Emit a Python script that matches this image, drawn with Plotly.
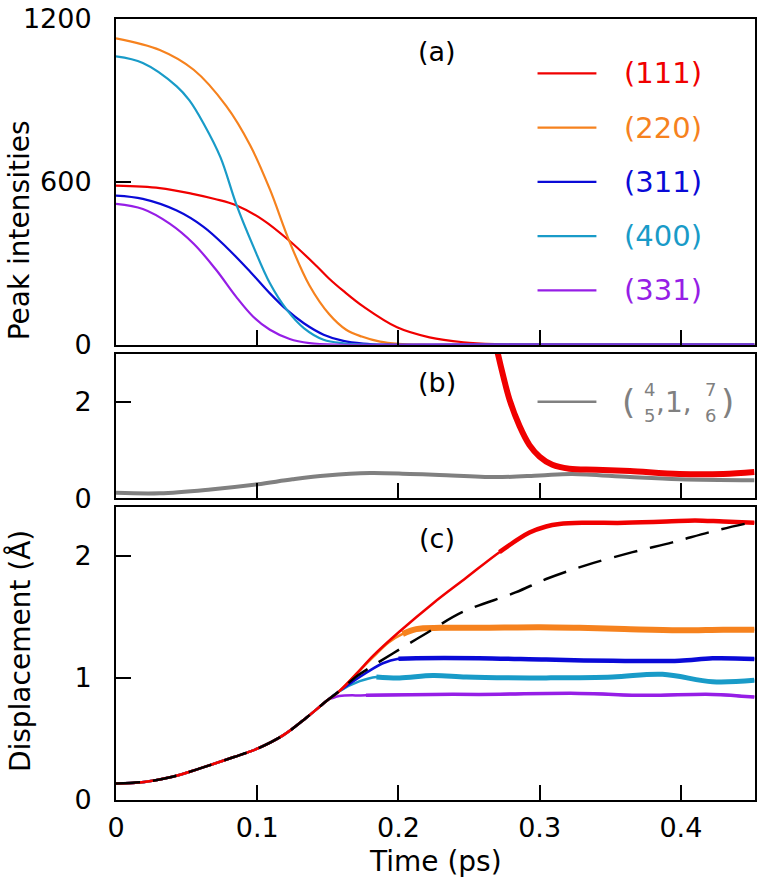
import plotly.graph_objects as go

# ---- panel (a): peak intensities vs time ----
a_111_t = [0, 0.031, 0.055, 0.07, 0.085, 0.104, 0.123, 0.142, 0.151, 0.161, 0.175, 0.199, 0.222, 0.246, 0.269, 0.292, 0.35, 0.452]
a_111_v = [586, 577, 555, 537, 514, 460, 382, 290, 243, 198, 141, 64, 27, 9, 2, 0, 0, 0]

a_220_t = [0, 0.031, 0.055, 0.078, 0.095, 0.109, 0.123, 0.137, 0.151, 0.163, 0.174, 0.187, 0.2, 0.215, 0.3, 0.452]
a_220_v = [1129, 1086, 1013, 880, 735, 572, 378, 218, 112, 55, 30, 11, 3, 0, 0, 0]

a_311_t = [0, 0.019, 0.043, 0.062, 0.078, 0.095, 0.109, 0.121, 0.133, 0.147, 0.161, 0.175, 0.19, 0.25, 0.452]
a_311_v = [549, 537, 494, 434, 360, 269, 189, 128, 79, 37, 14, 4, 0, 0, 0]

a_400_t = [0, 0.019, 0.043, 0.052, 0.062, 0.074, 0.085, 0.097, 0.109, 0.121, 0.133, 0.147, 0.161, 0.18, 0.25, 0.452]
a_400_v = [1062, 1038, 952, 900, 815, 690, 520, 365, 226, 128, 61, 18, 5, 0, 0, 0]

a_331_t = [0, 0.019, 0.038, 0.055, 0.071, 0.085, 0.097, 0.109, 0.123, 0.137, 0.155, 0.22, 0.452]
a_331_v = [519, 500, 446, 372, 275, 177, 104, 55, 21, 6, 0, 0, 0]

# ---- panel (b) ----
b_gray_t = [0, 0.031, 0.067, 0.1, 0.125, 0.149, 0.18, 0.208, 0.229, 0.269, 0.30, 0.323, 0.364, 0.399, 0.452]
b_gray_v = [0.11, 0.10, 0.18, 0.285, 0.39, 0.47, 0.52, 0.50, 0.48, 0.435, 0.47, 0.50, 0.435, 0.39, 0.37]

b_red_t = [0.2675, 0.2704, 0.2745, 0.2786, 0.2857, 0.2928, 0.30, 0.309, 0.321, 0.34, 0.364, 0.399, 0.43, 0.452]
b_red_v = [3.4, 3.0, 2.5, 2.05, 1.50, 1.10, 0.86, 0.69, 0.61, 0.59, 0.56, 0.50, 0.50, 0.54]

# ---- panel (c): displacement ----
c_common_t = [0, 0.02, 0.04, 0.059, 0.083, 0.1, 0.118, 0.135, 0.149, 0.158]
c_common_v = [0.135, 0.148, 0.19, 0.257, 0.35, 0.42, 0.527, 0.676, 0.81, 0.89]

c_111_t = [0.17, 0.182, 0.2008, 0.2244, 0.248, 0.2715, 0.2928, 0.3046, 0.314, 0.33, 0.36, 0.39, 0.41, 0.43, 0.452]
c_111_v = [1.03, 1.18, 1.38, 1.61, 1.82, 2.03, 2.19, 2.24, 2.26, 2.27, 2.27, 2.28, 2.29, 2.28, 2.27]

c_220_t = [0.17, 0.182, 0.193, 0.203, 0.2126, 0.23, 0.257, 0.3, 0.328, 0.36, 0.399, 0.43, 0.452]
c_220_v = [1.03, 1.17, 1.29, 1.36, 1.40, 1.41, 1.41, 1.415, 1.41, 1.40, 1.39, 1.395, 1.395]

c_311_t = [0.177, 0.189, 0.2, 0.2126, 0.257, 0.3046, 0.3517, 0.399, 0.4224, 0.452]
c_311_v = [1.04, 1.12, 1.157, 1.162, 1.162, 1.15, 1.14, 1.14, 1.16, 1.155]

c_400_t = [0.1726, 0.1844, 0.2008, 0.2244, 0.248, 0.2928, 0.3046, 0.3517, 0.387, 0.4224, 0.452]
c_400_v = [0.973, 1.008, 1.0, 1.02, 1.008, 1.0, 1.0, 1.008, 1.03, 0.968, 0.98]

c_331_t = [0.152, 0.158, 0.177, 0.2244, 0.257, 0.328, 0.375, 0.4224, 0.452]
c_331_v = [0.83, 0.852, 0.857, 0.865, 0.865, 0.873, 0.857, 0.865, 0.843]

c_dash_t = [0.17, 0.182, 0.196, 0.2204, 0.2455, 0.2829, 0.3046, 0.332, 0.3658, 0.394, 0.4224, 0.4525]
c_dash_v = [1.01, 1.10, 1.20, 1.37, 1.54, 1.70, 1.81, 1.92, 2.03, 2.11, 2.20, 2.28]

labels = ["(111)", "(220)", "(311)", "(400)", "(331)"]
colors = ["rgb(240,0,0)", "rgb(246,130,30)", "rgb(10,10,215)", "rgb(25,155,200)", "rgb(150,30,230)"]
legend_y = [1000, 800, 600, 400, 200]
gray = "rgb(128,128,128)"

FONT = "DejaVu Sans"
T_MAX = 0.4525


def add_line(fig, t, v, color, width, xa, ya, dash=None):
    fig.add_trace(go.Scatter(
        x=t, y=v, mode="lines", xaxis=xa, yaxis=ya,
        line=dict(color=color, width=width, shape="spline", smoothing=1.0, dash=dash),
        showlegend=False, hoverinfo="skip",
    ))


fig = go.Figure()

# panel (a)
a_series = [(a_111_t, a_111_v), (a_220_t, a_220_v), (a_311_t, a_311_v), (a_400_t, a_400_v), (a_331_t, a_331_v)]
for (t, v), col in zip(a_series, colors):
    add_line(fig, t, v, col, 2.2, "x", "y")

# panel (b)
add_line(fig, b_gray_t, b_gray_v, gray, 4, "x2", "y2")
add_line(fig, b_red_t, b_red_v, colors[0], 6, "x2", "y2")

# panel (c): each series = shared rise + own tail; plateau drawn thicker
def branch(cut, tail_t, tail_v):
    t = [x for x in c_common_t if x <= cut] + tail_t
    v = c_common_v[:len(t) - len(tail_t)] + tail_v
    return t, v

c_series = [
    (branch(0.158, c_331_t, c_331_v), colors[4], 0.16, 3.5),
    (branch(0.158, c_400_t, c_400_v), colors[3], 0.18, 5),
    (branch(0.158, c_311_t, c_311_v), colors[2], 0.19, 4.5),
    (branch(0.158, c_220_t, c_220_v), colors[1], 0.20, 6),
    (branch(0.158, c_111_t, c_111_v), colors[0], 0.27, 4.5),
]
for (t, v), col, p0, w in c_series:
    add_line(fig, t, v, col, 2.5, "x3", "y3")
    tp = [x for x, y in zip(t, v) if x >= p0]
    vp = [y for x, y in zip(t, v) if x >= p0]
    add_line(fig, tp, vp, col, w, "x3", "y3")

dt, dv = branch(0.158, c_dash_t, c_dash_v)
add_line(fig, dt, dv, "black", 2.5, "x3", "y3", dash="24px,13px")

# axes
axis_common = dict(
    showline=True, linecolor="black", linewidth=2, mirror=True,
    ticks="inside", ticklen=15, tickwidth=2, tickcolor="black",
    showgrid=False, zeroline=False, ticklabeloverflow="allow",
    tickfont=dict(family=FONT, size=27, color="black"),
)
x_ticks = [0, 0.1, 0.2, 0.3, 0.4]
fig.update_layout(
    width=760, height=884,
    margin=dict(l=116, r=3, t=11, b=84),
    paper_bgcolor="white", plot_bgcolor="white",
    font=dict(family=FONT, color="black"),
    xaxis=dict(axis_common, domain=[0, 1], anchor="y", range=[0, T_MAX], tickvals=x_ticks, showticklabels=False),
    xaxis2=dict(axis_common, domain=[0, 1], anchor="y2", range=[0, T_MAX], tickvals=x_ticks, showticklabels=False),
    xaxis3=dict(axis_common, domain=[0, 1], anchor="y3", range=[0, T_MAX], tickvals=x_ticks,
                ticktext=["0", "0.1", "0.2", "0.3", "0.4"], ticklabelstandoff=3),
    yaxis=dict(axis_common, domain=[0.583, 1.0], anchor="x", range=[0, 1200], tickvals=[0, 600, 1200], ticklabelstandoff=17),
    yaxis2=dict(axis_common, domain=[0.3866, 0.5716], anchor="x2", range=[0, 3], tickvals=[0, 2], ticklabelstandoff=17),
    yaxis3=dict(axis_common, domain=[0, 0.3752], anchor="x3", range=[0, 2.4], tickvals=[0, 1, 2], ticklabelstandoff=17),
)

ann = []
shapes = []
# panel tags
for tag, xr, yr, yv in [("(a)", "x", "y", 1080), ("(b)", "x2", "y2", 2.39), ("(c)", "x3", "y3", 2.14)]:
    ann.append(dict(text=tag, x=0.227, y=yv, xref=xr, yref=yr, showarrow=False,
                    font=dict(family=FONT, size=27, color="black")))

# legend of (a)
for lab, col, ly in zip(labels, colors, legend_y):
    shapes.append(dict(type="line", xref="x", yref="y", x0=0.2985, x1=0.3402, y0=ly, y1=ly,
                       line=dict(color=col, width=2.2)))
    ann.append(dict(text=lab, x=0.358, y=ly, xref="x", yref="y", xanchor="left", yanchor="middle",
                    showarrow=False, font=dict(family=FONT, size=29, color=col)))

# legend of (b): (4/5, 1, 7/6)
shapes.append(dict(type="line", xref="x2", yref="y2", x0=0.2985, x1=0.3402, y0=2.0, y1=2.0,
                   line=dict(color=gray, width=2.5)))
for txt, xv, yv, sz in [("(", 0.3628, 2.0, 34), ("4", 0.3777, 2.25, 18), ("5", 0.3777, 1.72, 18),
                        (",1,", 0.3953, 1.98, 28), ("7", 0.4208, 2.25, 18), ("6", 0.4208, 1.72, 18),
                        (")", 0.4328, 2.0, 34)]:
    ann.append(dict(text=txt, x=xv, y=yv, xref="x2", yref="y2", showarrow=False,
                    font=dict(family=FONT, size=sz, color=gray)))

# axis titles
title_font = dict(family=FONT, size=28, color="black")
ann.append(dict(text="Peak intensities", x=-0.151, y=0.7288, xref="paper", yref="paper", textangle=-90,
                xanchor="center", yanchor="middle", showarrow=False, font=title_font))
ann.append(dict(text="Displacement (Å)", x=-0.151, y=0.19, xref="paper", yref="paper", textangle=-90,
                xanchor="center", yanchor="middle", showarrow=False, font=title_font))
ann.append(dict(text="Time (ps)", x=0.5, y=-0.0786, xref="paper", yref="paper",
                xanchor="center", yanchor="middle", showarrow=False, font=title_font))

fig.update_layout(annotations=ann, shapes=shapes)

# drop the page's default body margin so the figure sits at the window origin
fig.write_html("out.html", config={"displayModeBar": False},
               post_script="document.body.style.margin='0';")
